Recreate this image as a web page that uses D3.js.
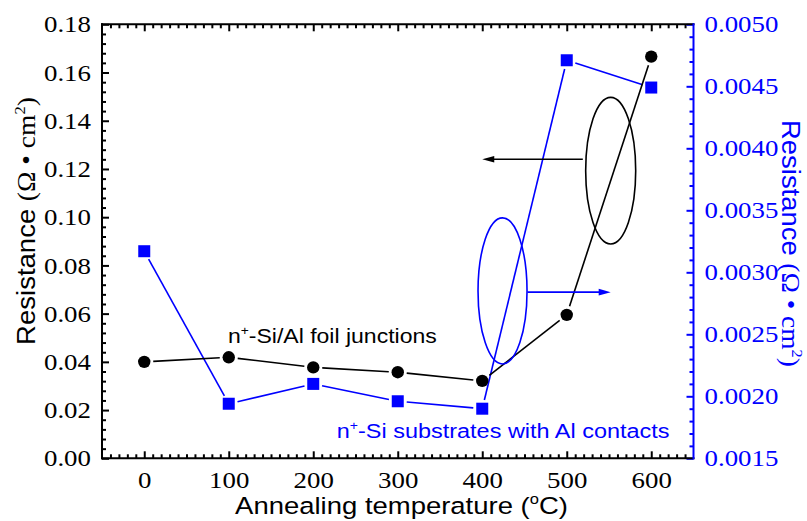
<!DOCTYPE html>
<html>
<head>
<meta charset="utf-8">
<script src="https://cdn.jsdelivr.net/npm/d3@7/dist/d3.min.js"></script>
<style>
  body { margin: 0; background: #fff; }
  svg { display: block; }
</style>
</head>
<body>
<svg id="chart" width="807" height="521"></svg>
<script>
// Annealing temperatures (°C)
const temps = [0, 100, 200, 300, 400, 500, 600];
// n+-Si/Al foil junctions, left axis (Ω·cm²)
const foilJunction = [0.0400, 0.0419, 0.0377, 0.0357, 0.0321, 0.0595, 0.1666];
// n+-Si substrates with Al contacts, right axis (Ω·cm²)
const substrateContact = [0.00317, 0.00194, 0.00210, 0.00196, 0.00190, 0.00471, 0.00449];

// Tick values
const xTicks = [0, 100, 200, 300, 400, 500, 600];
const yLeftTicks = [0, 0.02, 0.04, 0.06, 0.08, 0.10, 0.12, 0.14, 0.16, 0.18];
const yRightTicks = [0.0015, 0.0020, 0.0025, 0.0030, 0.0035, 0.0040, 0.0045, 0.0050];

const BLUE = "#0000ff";
const SERIF = "'Liberation Serif','Times New Roman',serif";
const SANS = "'Liberation Sans',Arial,sans-serif";
const SX = 1.12; // horizontal widening of tick numerals

const svg = d3.select("#chart");

const x = d3.scaleLinear().domain([-50, 650]).range([102, 693.5]);
const yL = d3.scaleLinear().domain([0, 0.18]).range([458.3, 24.3]);
const yR = d3.scaleLinear().domain([0.0015, 0.005]).range([458.3, 24.3]);

const [X0, X1] = x.range();
const [Y0, Y1] = yL.range();

// minor tick positions
const xMinor = d3.range(-4, 65).map(i => i * 10).filter(v => v % 100 !== 0);
const yLMinor = d3.range(0, 46).filter(i => i % 5 !== 0).map(i => i * 0.004);
const yRMinor = d3.range(0, 36).filter(i => i % 5 !== 0).map(i => 0.0015 + i * 0.0001);

function drawAxis(axis, tx, ty, color, labelled) {
  const g = svg.append("g")
    .attr("transform", `translate(${tx},${ty})`)
    .call(axis)
    .attr("color", color);
  g.select(".domain").remove();
  g.selectAll(".tick line").attr("stroke-width", 2);
  if (labelled) {
    g.selectAll(".tick text").each(function () {
      const t = d3.select(this);
      const xx = +t.attr("x") || 0, yy = +t.attr("y") || 0;
      t.attr("x", 0).attr("y", 0)
        .style("font-family", SERIF)
        .style("font-size", "24px")
        .attr("transform", `translate(${xx},${yy}) scale(${SX},1)`);
    });
  } else {
    g.selectAll(".tick text").remove();
  }
  return g;
}

// bottom axis
drawAxis(d3.axisBottom(x).tickValues(xTicks).tickSize(-7).tickSizeOuter(0).tickPadding(13), 0, Y0, "#000", true);
drawAxis(d3.axisBottom(x).tickValues(xMinor).tickSize(-4).tickSizeOuter(0).tickFormat(""), 0, Y0, "#000", false);
// top axis
drawAxis(d3.axisTop(x).tickValues(xTicks).tickSize(-7).tickSizeOuter(0).tickFormat(""), 0, Y1, "#000", false);
drawAxis(d3.axisTop(x).tickValues(xMinor).tickSize(-4).tickSizeOuter(0).tickFormat(""), 0, Y1, "#000", false);
// left axis
drawAxis(d3.axisLeft(yL).tickValues(yLeftTicks).tickSize(-7).tickSizeOuter(0).tickPadding(11).tickFormat(d3.format(".2f")), X0, 0, "#000", true);
drawAxis(d3.axisLeft(yL).tickValues(yLMinor).tickSize(-4).tickSizeOuter(0).tickFormat(""), X0, 0, "#000", false);
// right axis
drawAxis(d3.axisRight(yR).tickValues(yRightTicks).tickSize(-7).tickSizeOuter(0).tickPadding(11).tickFormat(d3.format(".4f")), X1, 0, BLUE, true);
drawAxis(d3.axisRight(yR).tickValues(yRMinor).tickSize(-4).tickSizeOuter(0).tickFormat(""), X1, 0, BLUE, false);

// frame
const frame = svg.append("g").attr("stroke-width", 2).attr("stroke-linecap", "square");
frame.append("line").attr("x1", X0).attr("x2", X1).attr("y1", Y0).attr("y2", Y0).attr("stroke", "#000");
frame.append("line").attr("x1", X0).attr("x2", X1).attr("y1", Y1).attr("y2", Y1).attr("stroke", "#000");
frame.append("line").attr("x1", X0).attr("x2", X0).attr("y1", Y0).attr("y2", Y1).attr("stroke", "#000");
frame.append("line").attr("x1", X1).attr("x2", X1).attr("y1", Y0).attr("y2", Y1).attr("stroke", BLUE);

// connecting segments that stop short of the markers
function gappedSegments(pts, gap) {
  const segs = [];
  for (let i = 0; i < pts.length - 1; i++) {
    const [ax, ay] = pts[i], [bx, by] = pts[i + 1];
    const dx = bx - ax, dy = by - ay, len = Math.hypot(dx, dy);
    const ux = dx / len, uy = dy / len;
    segs.push([ax + ux * gap, ay + uy * gap, bx - ux * gap, by - uy * gap]);
  }
  return segs;
}

function drawSeries(values, yScale, color, shape) {
  const pts = temps.map((t, i) => [x(t), yScale(values[i])]);
  const g = svg.append("g");
  g.selectAll("line.seg").data(gappedSegments(pts, 9)).join("line")
    .attr("class", "seg")
    .attr("x1", d => d[0]).attr("y1", d => d[1])
    .attr("x2", d => d[2]).attr("y2", d => d[3])
    .attr("stroke", color).attr("stroke-width", 1.6);
  if (shape === "circle") {
    g.selectAll("circle").data(pts).join("circle")
      .attr("cx", d => d[0]).attr("cy", d => d[1]).attr("r", 6.2).attr("fill", color);
  } else {
    g.selectAll("rect").data(pts).join("rect")
      .attr("x", d => d[0] - 6).attr("y", d => d[1] - 6)
      .attr("width", 12).attr("height", 12).attr("fill", color);
  }
}

drawSeries(substrateContact, yR, BLUE, "square");
drawSeries(foilJunction, yL, "#000", "circle");

// ellipses grouping each series, with arrows pointing to their axes
function ellipse(cx, cy, rxPx, ryPx, color) {
  svg.append("ellipse").attr("cx", cx).attr("cy", cy).attr("rx", rxPx).attr("ry", ryPx)
    .attr("fill", "none").attr("stroke", color).attr("stroke-width", 1.6);
}
function arrow(xa, xb, yy, color) {
  const dir = Math.sign(xb - xa);
  svg.append("line").attr("x1", xa).attr("x2", xb - dir * 10).attr("y1", yy).attr("y2", yy)
    .attr("stroke", color).attr("stroke-width", 1.6);
  svg.append("path")
    .attr("d", `M${xb},${yy} L${xb - dir * 12},${yy - 3.3} L${xb - dir * 12},${yy + 3.3} Z`)
    .attr("fill", color);
}

ellipse(x(552), yL(0.1193), x(552 + 29.6) - x(552), yL(0) - yL(0.0304), "#000");
arrow(x(519), x(400), yL(0.124), "#000");
ellipse(x(424), yR(0.00285), x(424 + 29) - x(424), yR(0.0015) - yR(0.0015 + 0.000589), BLUE);
arrow(x(453.5), x(552), yR(0.00284), BLUE);

// text helper: natural width is measured, then stretched to the target length
function label(parts, opts) {
  const t = svg.append("text")
    .attr("x", 0).attr("y", 0)
    .attr("fill", opts.color || "#000")
    .attr("font-size", opts.size)
    .attr("text-anchor", opts.anchor || "start");
  let shift = 0;
  parts.forEach(p => {
    const s = t.append("tspan").text(p.text).attr("font-family", p.serif ? SERIF : SANS);
    const want = p.sup ? -opts.size * 0.42 : 0;
    if (want !== shift) { s.attr("dy", want - shift); shift = want; }
    if (p.sup) s.attr("font-size", opts.size * 0.6);
  });
  const w = t.node().getBBox().width;
  const s = opts.width ? opts.width / w : 1;
  t.attr("transform", `translate(${opts.x},${opts.y}) rotate(${opts.rotate || 0}) scale(${s},1)`);
  return t;
}

// series labels
label([{ text: "n" }, { text: "+", sup: true }, { text: "-Si/Al foil junctions" }],
  { x: x(99), y: yL(0.0477), size: 20.5, width: 209 });
label([{ text: "n" }, { text: "+", sup: true }, { text: "-Si substrates with Al contacts" }],
  { x: x(227.8), y: yR(0.001661), size: 21, width: 333, color: BLUE });

// axis titles
label([{ text: "Annealing temperature (" }, { text: "o", sup: true }, { text: "C)" }],
  { x: 401.5, y: 514, size: 23.5, width: 333, anchor: "middle" });
label([{ text: "Resistance " }, { text: "(Ω • cm", serif: true }, { text: "2", serif: true, sup: true }, { text: ")", serif: true }],
  { x: 35, y: 221, size: 25, width: 248, anchor: "middle", rotate: -90 });
label([{ text: "Resistance " }, { text: "(Ω • cm", serif: true }, { text: "2", serif: true, sup: true }, { text: ")", serif: true }],
  { x: 782, y: 243.5, size: 25, width: 247, anchor: "middle", rotate: 90, color: BLUE });
</script>
</body>
</html>
